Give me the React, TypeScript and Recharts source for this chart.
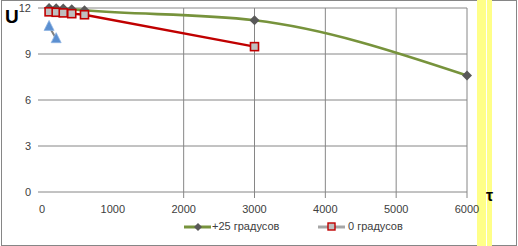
import React from 'react';
import { LineChart, Line, XAxis, YAxis, CartesianGrid, ReferenceLine } from 'recharts';

// +25 градусов
const warmTime = [100, 200, 300, 420, 600, 3000, 6000];
const warmU = [12.0, 11.98, 11.96, 11.92, 11.85, 11.2, 7.6];
// 0 градусов
const coldTime = [100, 200, 300, 420, 600, 3000];
const coldU = [11.75, 11.72, 11.68, 11.63, 11.56, 9.48];
// третья серия (без легенды)
const blueTime = [100, 200];
const blueU = [10.8, 10.0];

const xTicks = [0, 1000, 2000, 3000, 4000, 5000, 6000];
const yTicks = [0, 3, 6, 9, 12];
const xGrid = [2000, 3000, 4000, 5000, 6000];

const zip = (xs: number[], ys: number[]) => xs.map((x, i) => ({ t: x, u: ys[i] }));
const warmData = zip(warmTime, warmU);
const coldData = zip(coldTime, coldU);
const blueData = zip(blueTime, blueU);

const GRID = '#868686';
const TEXT = '#404040';
const FONT = '"Liberation Sans", Arial, sans-serif';

const Diamond = ({ cx, cy }: any) => (
  <path d={`M${cx},${cy - 5}L${cx + 5},${cy}L${cx},${cy + 5}L${cx - 5},${cy}Z`} fill="#595959" />
);

const Square = ({ cx, cy }: any) => (
  <rect x={cx - 4} y={cy - 4} width={8} height={8} fill="#BFBFBF" stroke="#C00000" strokeWidth={1.6} />
);

const Triangle = ({ cx, cy }: any) => (
  <path d={`M${cx},${cy - 6}L${cx + 5},${cy + 4}L${cx - 5},${cy + 4}Z`} fill="#5B8FD0" stroke="#8DB3E2" strokeWidth={0.8} />
);

const XTick = ({ x, y, payload }: any) => (
  <g>
    {payload.value >= 2000 && <line x1={x} x2={x} y1={y - 13} y2={y - 7} stroke={GRID} />}
    <text x={x} y={y} dy="0.71em" textAnchor="middle" fill={TEXT} fontSize={11} fontFamily={FONT}>
      {payload.value}
    </text>
  </g>
);

const LegendBox = () => (
  <div style={{ position: 'absolute', left: 0, top: 219, width: 518, height: 16, fontFamily: FONT, fontSize: 11, color: TEXT }}>
    <svg width={30} height={16} style={{ position: 'absolute', left: 184, top: 0 }}>
      <line x1={0} x2={27} y1={8} y2={8} stroke="#77933C" strokeWidth={3} />
      <path d="M14,4L18,8L14,12L10,8Z" fill="#595959" />
    </svg>
    <span style={{ position: 'absolute', left: 212, top: 1, whiteSpace: 'nowrap' }}>+25 градусов</span>
    <svg width={30} height={16} style={{ position: 'absolute', left: 318, top: 0 }}>
      <line x1={0} x2={27} y1={8} y2={8} stroke="#A6A6A6" strokeWidth={3} />
      <rect x={10} y={4} width={7} height={7} fill="#BFBFBF" stroke="#C00000" strokeWidth={1.4} />
    </svg>
    <span style={{ position: 'absolute', left: 348, top: 1, whiteSpace: 'nowrap' }}>0 градусов</span>
  </div>
);

export default function App() {
  return (
    <div style={{ position: 'absolute', left: 0, top: 0, width: 518, height: 246, background: '#fff' }}>
      <div style={{ position: 'absolute', left: 1, top: 0, width: 516, height: 246, boxSizing: 'border-box', border: `1px solid ${GRID}` }} />
      <div style={{ position: 'absolute', left: 477, top: 0, width: 15, height: 246, background: '#FFFF88' }} />
      <div style={{ position: 'absolute', left: 486, top: 0, width: 1, height: 246, background: '#FFFFFF' }} />
      <div style={{ position: 'absolute', left: 0, top: 0 }}>
        <LineChart width={518} height={246} margin={{ top: 8, right: 51, bottom: 0, left: 0 }}>
          <CartesianGrid vertical={false} stroke={GRID} strokeWidth={1} />
          <XAxis
            type="number"
            dataKey="t"
            domain={[0, 6000]}
            ticks={xTicks}
            height={54}
            axisLine={false}
            tickLine={false}
            tickSize={5}
            tickMargin={8}
            tick={<XTick />}
            interval={0}
          />
          <YAxis
            type="number"
            domain={[0, 12]}
            ticks={yTicks}
            width={42}
            axisLine={false}
            tickLine={{ stroke: GRID }}
            tickSize={4}
            tickMargin={7}
            tick={{ fill: TEXT, fontSize: 11, fontFamily: FONT }}
            interval={0}
          />
          {xGrid.map((v) => (
            <ReferenceLine key={v} x={v} stroke={GRID} strokeWidth={1} />
          ))}
          <Line
            data={warmData}
            dataKey="u"
            type="monotone"
            stroke="#77933C"
            strokeWidth={2.6}
            dot={<Diamond />}
            activeDot={false}
            isAnimationActive={false}
            name="+25 градусов"
          />
          <Line
            data={coldData}
            dataKey="u"
            type="linear"
            stroke="#C00000"
            strokeWidth={2.4}
            dot={<Square />}
            activeDot={false}
            isAnimationActive={false}
            name="0 градусов"
          />
          <Line
            data={blueData}
            dataKey="u"
            type="linear"
            stroke="#808080"
            strokeWidth={2}
            dot={<Triangle />}
            activeDot={false}
            isAnimationActive={false}
            legendType="none"
          />
        </LineChart>
      </div>
      <LegendBox />
      <span style={{ position: 'absolute', left: 5, top: 7, fontFamily: FONT, fontWeight: 'bold', fontSize: 19, lineHeight: '19px', color: '#000' }}>U</span>
      <span style={{ position: 'absolute', left: 486, top: 188, fontFamily: FONT, fontWeight: 'bold', fontSize: 16, lineHeight: '16px', color: '#000' }}>τ</span>
    </div>
  );
}
